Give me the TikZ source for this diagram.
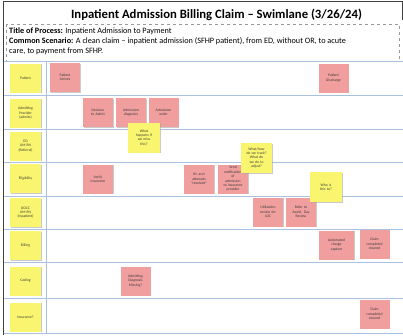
\documentclass[tikz,border=0pt]{standalone}
\usepackage{fontspec}
\setmainfont{Carlito}
\usetikzlibrary{shadows}
\definecolor{noteyellow}{RGB}{250,245,110}
\definecolor{notepink}{RGB}{240,158,158}
\definecolor{laneblue}{RGB}{170,192,225}
\definecolor{txtgray}{RGB}{60,60,60}
\tikzset{
  px/.style={x=1pt,y=-1pt},
  note/.style={draw=none, inner sep=0.5pt, align=center, text=txtgray,
    font=\fontsize{3.7}{4.4}\selectfont,
    drop shadow={shadow xshift=0.8pt, shadow yshift=-0.8pt, fill=black!35, opacity=0.6}},
  lanelabel/.style={note, fill=noteyellow, minimum width=31pt, minimum height=29pt, text width=29pt},
  pinknote/.style={note, fill=notepink, minimum width=30pt, minimum height=29pt, text width=28pt},
  yellownote/.style={note, fill=noteyellow, minimum width=32pt, minimum height=30pt, text width=30pt},
  laneline/.style={draw=laneblue, line width=0.9pt},
  frameline/.style={draw=black!75, line width=1pt}
}
\begin{document}
\begin{tikzpicture}[px]
\useasboundingbox (0,0) rectangle (403,335);
% frame
\draw[frameline] (3.5,335) -- (3.5,1.5) -- (402,1.5) -- (402,20);
% title
\node[font=\bfseries\fontsize{12.7}{14}\selectfont] (title) at (216.5,15) {Inpatient Admission Billing Claim – Swimlane (3/26/24)};
% description box
\draw[black!40, dashed, line width=0.4pt] (6,24) rectangle (399,61);
\node[anchor=north west, align=left, inner sep=0pt, font=\fontsize{8.2}{9.6}\selectfont] (desc) at (9,28)
  {\textbf{Title of Process:} Inpatient Admission to Payment\\
   \textbf{Common Scenario:} A clean claim – inpatient admission (SFHP patient), from ED, without OR, to acute\\
   care, to payment from SFHP.};
% lane lines
\foreach \y in {61,95,129,162,196,229,262,298,333}
  \draw[laneline] (4,\y) -- (403,\y);
\draw[laneline] (46,61) -- (46,333);
% lane labels
\node[lanelabel] (lpat) at (25.5,78) {Patient};
\node[lanelabel] (ladm) at (25.5,113) {Admitting\\Provider\\(admits)};
\node[lanelabel] (led) at (25.5,146) {ED\\UM RN\\(Referral)};
\node[lanelabel] (lelig) at (25.5,178.5) {Eligibility};
\node[lanelabel] (ldocc) at (25.5,212.5) {DOCC\\UM RN\\(Inpatient)};
\node[lanelabel] (lbill) at (25.5,245.5) {Billing};
\node[lanelabel] (lcod) at (25.5,281) {Coding};
\node[lanelabel] (lins) at (25.5,317) {Insurance?};
% pink steps
\node[pinknote] (pa) at (65,77.5) {Patient\\Arrives};
\node[pinknote] (pd) at (333.5,78) {Patient\\Discharge};
\node[pinknote] (da) at (98,112.5) {Decision\\to Admit};
\node[pinknote] (adx) at (131,112.5) {Admission\\diagnosis};
\node[pinknote] (ao) at (163.5,112.5) {Admission\\order};
\node[pinknote] (vi) at (98,179) {Verify\\insurance};
\node[pinknote] (hi) at (199,179) {HI: acct\\attempts\\“resolved”};
\node[pinknote] (sn) at (233,179) {Send\\notification\\of\\admission\\to insurance\\provider};
\node[pinknote] (ur) at (268,212) {Utilization\\review for\\LOC};
\node[pinknote] (rd) at (301,212) {Refer to\\Avoid. Day\\Review};
\node[pinknote, minimum width=35pt, text width=33pt] (acc) at (336.5,245) {Automated\\charge\\capture};
\node[pinknote] (cc1) at (374.5,244) {Claim\\completed\\cleared};
\node[pinknote] (dm) at (135.5,281) {Admitting\\Diagnosis\\Missing?};
\node[pinknote] (cc2) at (374.5,314) {Claim\\completed\\cleared};
% yellow questions
\node[yellownote] (q1) at (144,137.5) {What\\happens if\\we miss\\this?};
\node[yellownote, minimum width=31pt] (q2) at (256.5,158) {What/how\\do we track?\\What do\\we do to\\adjust?};
\node[yellownote] (q3) at (326,187) {Who is\\this to?};
\end{tikzpicture}
\end{document}
